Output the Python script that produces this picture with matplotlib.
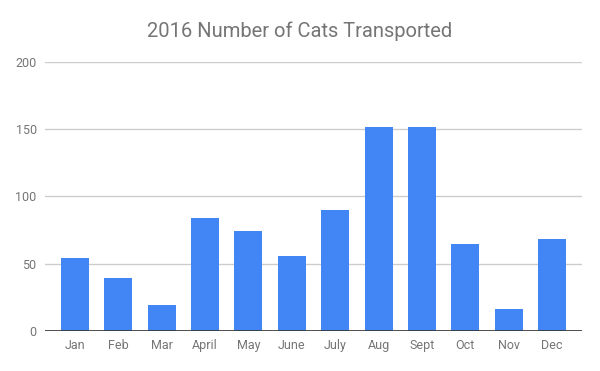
import matplotlib
matplotlib.use("Agg")
import matplotlib.pyplot as plt

months = ["Jan", "Feb", "Mar", "April", "May", "June", "July", "Aug", "Sept", "Oct", "Nov", "Dec"]
cats = [54, 39, 19, 84, 74, 56, 90, 152, 152, 65, 16, 68]
yticks = [0, 50, 100, 150, 200]

plt.rcParams['font.family'] = ['Roboto', 'DejaVu Sans']
fig = plt.figure(figsize=(6, 3.71), dpi=100)
ax = fig.add_axes([0.075, 0.108, 0.895, 0.725])

x = range(len(months))
ax.bar(x, cats, width=0.645, color="#4285F4", zorder=3)
ax.set_xlim(-0.69, 11.69)
ax.set_ylim(0, 200)
ax.set_yticks(yticks)
ax.set_yticklabels([str(v) for v in yticks])
ax.set_xticks(list(x))
ax.set_xticklabels(months)
ax.grid(axis='y', color="#cccccc", linewidth=1, zorder=0)
ax.axhline(0, color="#333333", linewidth=1.2, zorder=4)
for s in ax.spines.values():
    s.set_visible(False)
ax.tick_params(axis='both', length=0, labelsize=9, colors="#757575")
ax.tick_params(axis='y', pad=6)
ax.tick_params(axis='x', pad=6)
fig.text(0.5, 0.915, "2016 Number of Cats Transported", ha='center', va='center',
         fontsize=14.5, color="#757575")
fig.savefig("out.png", dpi=100)
